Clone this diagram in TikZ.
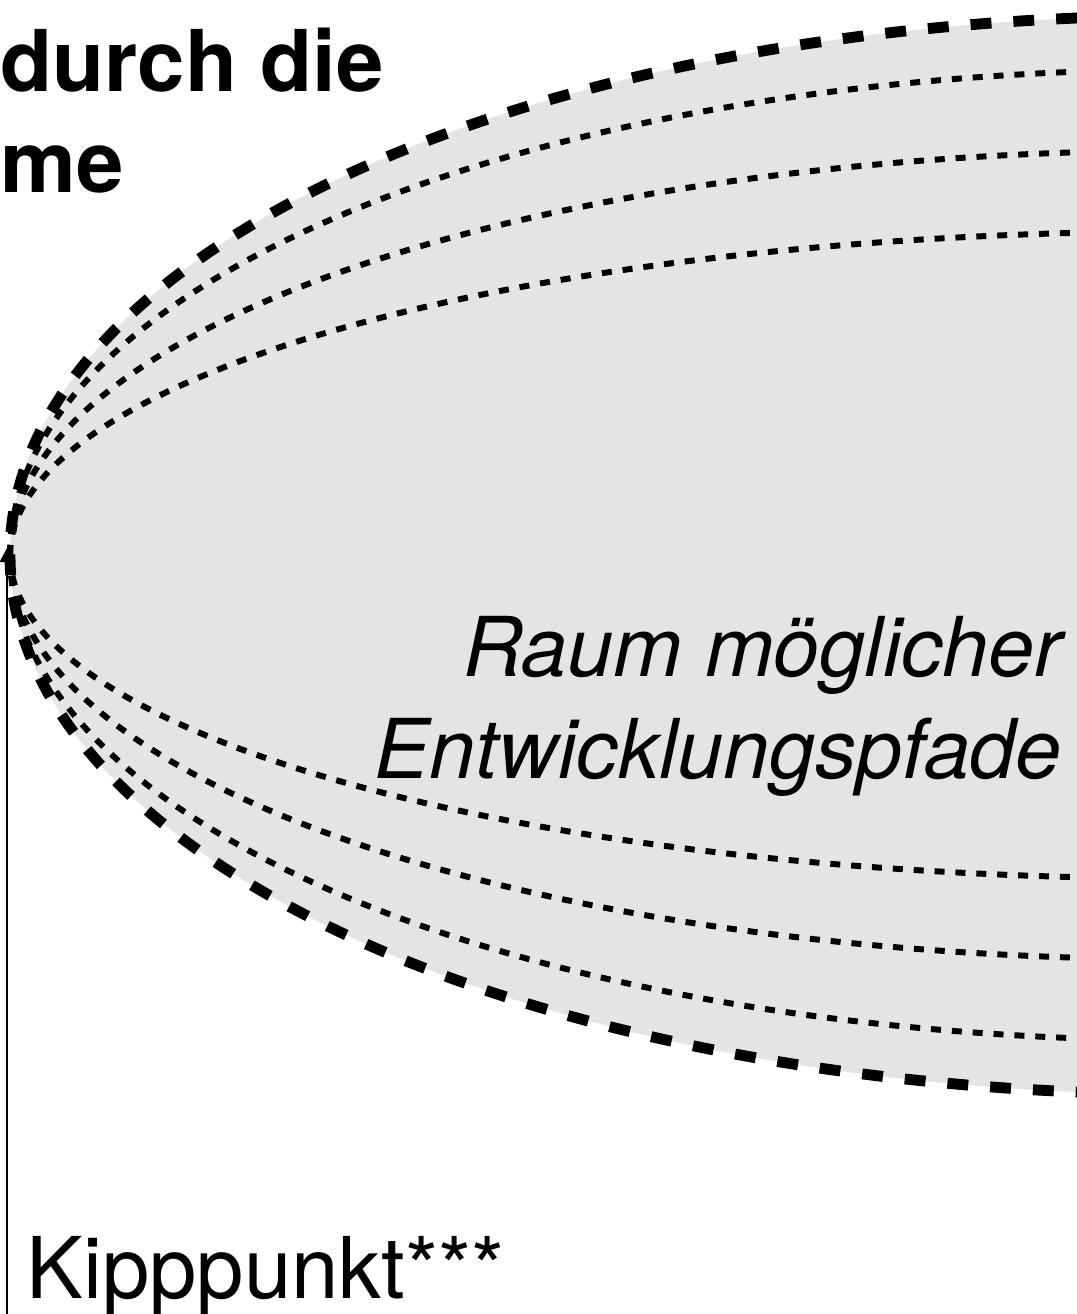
\documentclass[tikz,border=0pt]{standalone}
\usepackage{fontspec}
\setmainfont{TeX Gyre Heros}
\usetikzlibrary{arrows.meta}
\definecolor{pathgrey}{HTML}{E4E4E4}
\newcommand\bigsize{\fontsize{48.5}{57.5}\selectfont}
\tikzset{
  rim/.style={line width=6.2pt, dash pattern=on 11.9pt off 12.5pt},
  pathline/.style={line width=3.4pt, dash pattern=on 5.7pt off 6.2pt},
  label/.style={inner sep=0pt, font=\bigsize}
}
\begin{document}
\begin{tikzpicture}[x=0.02cm, y=0.02cm]
  \useasboundingbox (-10,-759) rectangle (1067,555);
  \coordinate (tip) at (0,0);
  \coordinate (foot) at (-3,-759);
  \coordinate (top) at (-3,7);
  % time axis up to the tipping point
  \draw[line width=1.6pt, -{Triangle[length=8pt,width=8pt]}] (foot) -- (top);
  % space of paths
  \fill[pathgrey] (tip) .. controls (0,275) and (440,510) .. (1067,537)
    -- (1067,-537) .. controls (440,-510) and (0,-275) .. (tip);
  \foreach \s in {0.9,0.75,0.6} {
    \draw[pathline, yscale=\s] (tip) .. controls (0,275) and (440,510) .. (1067,537);
    \draw[pathline, yscale=-\s] (tip) .. controls (0,275) and (440,510) .. (1067,537);
  }
  \draw[rim] (1067,537) .. controls (440,510) and (0,275) .. (tip)
    .. controls (0,-275) and (440,-510) .. (1067,-537);
  \node[label, font=\bigsize\bfseries, anchor=base west, align=left] (title) at (-10,362) {durch die\\me};
  \node[label, anchor=base west] (kipp) at (16,-743) {Kipppunkt***};
  \node[label, font=\fontsize{47}{57.5}\selectfont\itshape, anchor=base east, align=right] (space) at (1052,-223) {Raum möglicher\\Entwicklungspfade};
\end{tikzpicture}
\end{document}
